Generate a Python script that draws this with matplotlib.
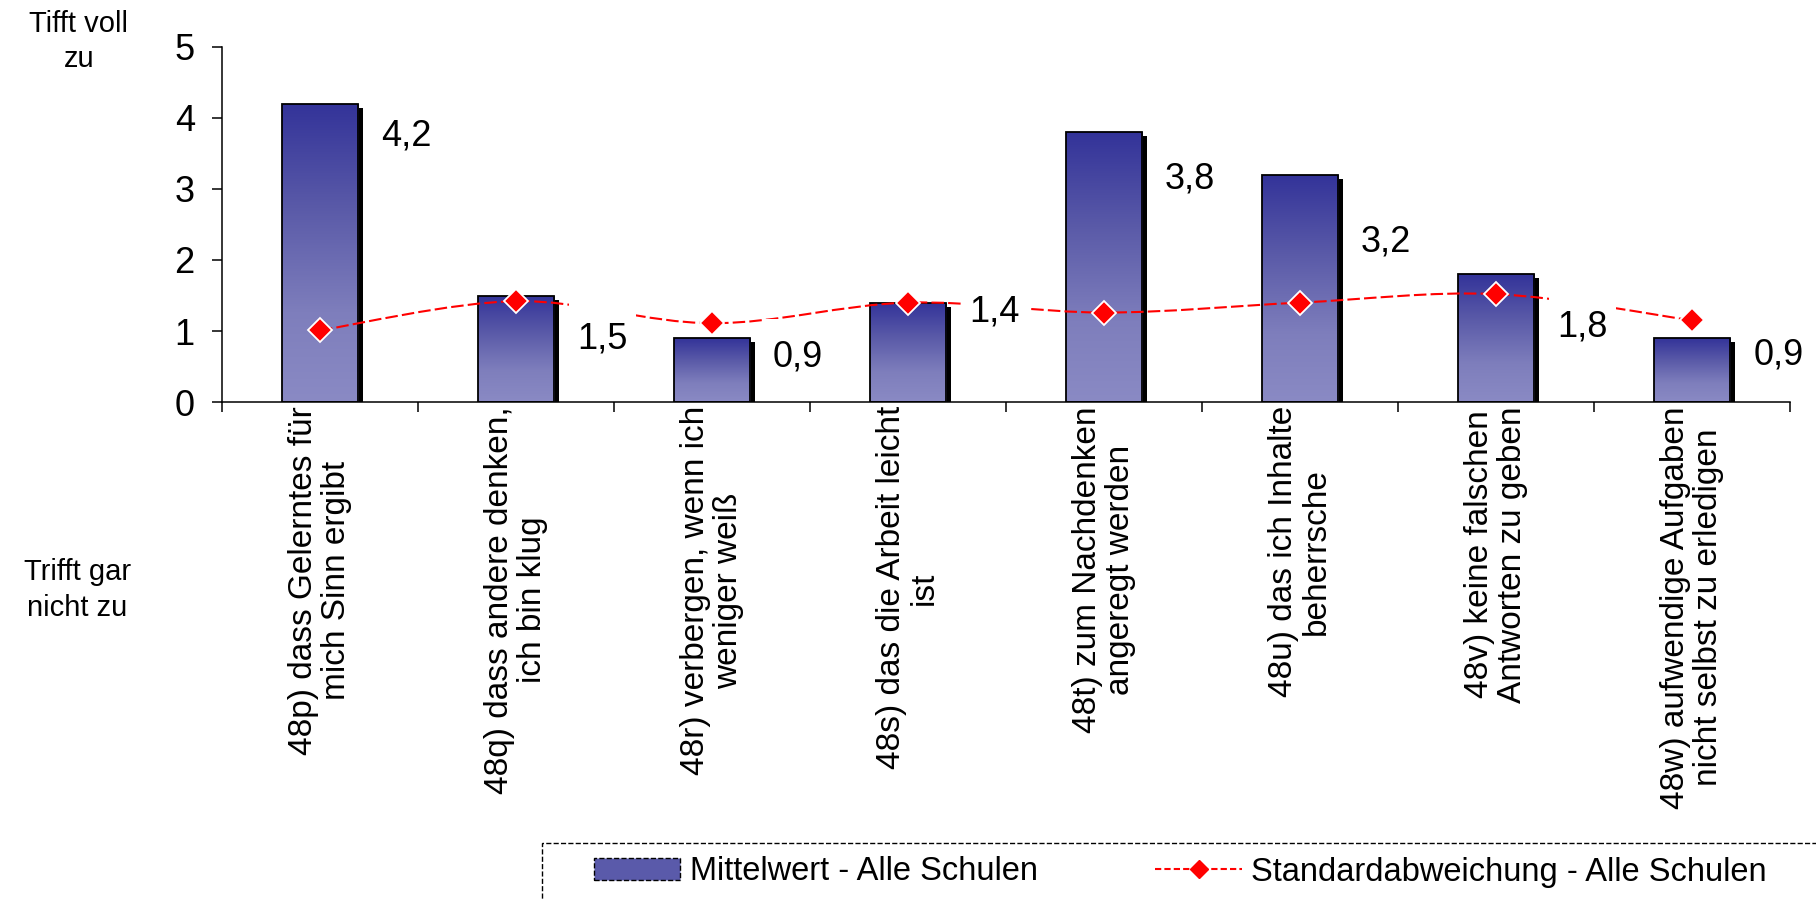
import numpy as np
import matplotlib
matplotlib.use('Agg')
import matplotlib.pyplot as plt
import matplotlib.transforms as mtransforms
from matplotlib.colors import LinearSegmentedColormap
from matplotlib.patches import Rectangle, PathPatch, Patch
from matplotlib.path import Path
from matplotlib.lines import Line2D

plt.rcParams['font.family'] = ['Liberation Sans', 'DejaVu Sans']

categories = [
    '48p) dass Gelerntes für\nmich Sinn ergibt',
    '48q) dass andere denken,\nich bin klug',
    '48r) verbergen, wenn ich\nweniger weiß',
    '48s) das die Arbeit leicht\nist',
    '48t) zum Nachdenken\nangeregt werden',
    '48u) das ich Inhalte\nbeherrsche',
    '48v) keine falschen\nAntworten zu geben',
    '48w) aufwendige Aufgaben\nnicht selbst zu erledigen',
]
mittelwert = [4.2, 1.5, 0.9, 1.4, 3.8, 3.2, 1.8, 0.9]
std_abw = [1.01, 1.42, 1.11, 1.40, 1.26, 1.40, 1.52, 1.15]
y_ticks = [0, 1, 2, 3, 4, 5]

# where the value labels sit (they were moved by hand in the original)
label_y = [3.75, 0.89, 0.64, 1.27, 3.14, 2.26, 1.05, 0.66]
label_dx = 0.44

fig = plt.figure(figsize=(18.16, 8.99), dpi=100)
ax = fig.add_axes([0.1222, 0.5528, 0.8635, 0.395])

x = np.arange(len(categories))
bw = 0.39

# shadow bars, shifted a few pixels right/down
shadow_tr = mtransforms.offset_copy(ax.transData, fig=fig, x=5, y=-4, units='dots')
shadows = ax.bar(x, mittelwert, bw, color='black', zorder=1.5)
for p in shadows:
    p.set_transform(shadow_tr)

# bars with vertical gradient
cmap = LinearSegmentedColormap.from_list(
    'bar', [(0, '#8A8AC4'), (0.3, '#7E7EBC'), (0.65, '#5A5AA8'), (1, '#333399')])
grad = np.linspace(0, 1, 256).reshape(-1, 1)
bars = ax.bar(x, mittelwert, bw, facecolor='none', edgecolor='black', lw=1.3, zorder=2.2)
for p in bars:
    x0, y0 = p.get_x(), p.get_y()
    im = ax.imshow(grad, cmap=cmap, origin='lower', aspect='auto', zorder=2,
                   extent=(x0, x0 + p.get_width(), y0, y0 + p.get_height()))
    im.set_clip_path(p)

# smoothed std line (bezier through the points)
pts = np.column_stack([x, std_abw]).astype(float)
ext = np.vstack([pts[0], pts, pts[-1]])
verts = [pts[0]]
codes = [Path.MOVETO]
for i in range(len(pts) - 1):
    p0, p1, p2, p3 = ext[i], ext[i + 1], ext[i + 2], ext[i + 3]
    verts += [p1 + (p2 - p0) / 6, p2 - (p3 - p1) / 6, p2]
    codes += [Path.CURVE4] * 3
ax.add_patch(PathPatch(Path(verts, codes), fill=False, edgecolor='red', lw=1.5,
                       linestyle=(0, (6, 2)), zorder=3))
ax.plot(x, std_abw, linestyle='none', marker='D', ms=12, mfc='red', mec='white',
        mew=1.3, zorder=4)

# value labels with white boxes (they hide the line behind)
for xi, v, ly in zip(x, mittelwert, label_y):
    ax.add_patch(Rectangle((xi + label_dx - 0.17, ly - 0.3), 0.34, 0.83,
                           facecolor='white', edgecolor='none', zorder=5))
    ax.text(xi + label_dx, ly, f'{v:.1f}'.replace('.', ','), ha='center', va='center',
            fontsize=26, zorder=6)

ax.set_xlim(-0.5, 7.5)
ax.set_ylim(0, 5)
ax.set_xticks(np.arange(-0.5, 8, 1))
ax.set_xticklabels([])
ax.set_xticks(x, minor=True)
ax.set_xticklabels(categories, minor=True, rotation=90, va='top', ha='center',
                   multialignment='center', fontsize=24, linespacing=1.1)
ax.tick_params(axis='x', which='major', direction='out', length=7.5, width=1.1)
ax.tick_params(axis='x', which='minor', length=0, pad=3)
ax.set_yticks(y_ticks)
ax.tick_params(axis='y', length=7.5, width=1.1, labelsize=26, pad=12)
for s in ['top', 'right']:
    ax.spines[s].set_visible(False)
for s in ['left', 'bottom']:
    ax.spines[s].set_linewidth(1.1)

fig.text(0.0435, 0.9538, 'Tifft voll\nzu', ha='center', va='center', fontsize=21,
         linespacing=1.35)
fig.text(0.0425, 0.3437, 'Trifft gar\nnicht zu', ha='center', va='center', fontsize=21,
         linespacing=1.35)

# legend: dashed frame runs off the bottom/right edge like in the original
fig.patches.append(Rectangle((542 / 1816, -0.1), 1.0, 0.1 + 1 - 843 / 899,
                             transform=fig.transFigure, fill=False, edgecolor='black',
                             linestyle='--', lw=1.0))
h1 = Patch(facecolor='#5A5AAA', edgecolor='black', linestyle='--', lw=1)
h2 = Line2D([], [], color='red', lw=1.5, linestyle=(0, (3, 1.5)), marker='D', ms=9,
            mfc='red', mec='red')
fig.legend([h1, h2], ['Mittelwert - Alle Schulen', 'Standardabweichung - Alle Schulen'],
           loc='center left', bbox_to_anchor=(594 / 1816, 1 - 872 / 899), ncol=2,
           fontsize=23.5, frameon=False, handlelength=2.64, handleheight=0.65,
           handletextpad=0.3, columnspacing=3.6, borderpad=0, borderaxespad=0)

fig.savefig('out.png', dpi=100)
